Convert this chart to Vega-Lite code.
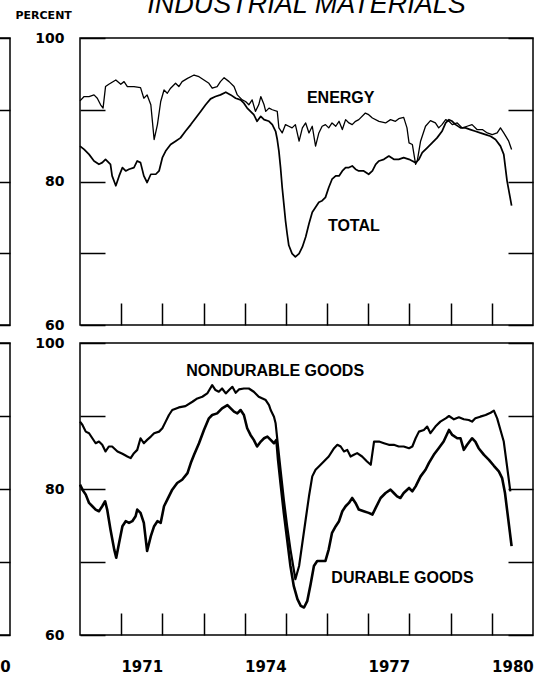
{
  "$schema": "https://vega.github.io/schema/vega-lite/v6.json",
  "background": "white",
  "padding": {"left": -444, "top": -10, "right": 10, "bottom": 0},
  "datasets": {
    "top": [
      {"s":"ENERGY","t":1970.0,"v":91.24},{"s":"ENERGY","t":1970.10,"v":91.84},{"s":"ENERGY","t":1970.22,"v":91.84},{"s":"ENERGY","t":1970.34,"v":92.07},{"s":"ENERGY","t":1970.42,"v":91.61},{"s":"ENERGY","t":1970.50,"v":90.69},{"s":"ENERGY","t":1970.56,"v":90.23},{"s":"ENERGY","t":1970.62,"v":93.23},{"s":"ENERGY","t":1970.70,"v":93.55},{"s":"ENERGY","t":1970.87,"v":94.15},{"s":"ENERGY","t":1970.99,"v":93.55},{"s":"ENERGY","t":1971.07,"v":93.92},{"s":"ENERGY","t":1971.15,"v":93.23},{"s":"ENERGY","t":1971.31,"v":93.23},{"s":"ENERGY","t":1971.47,"v":93.09},{"s":"ENERGY","t":1971.55,"v":91.61},{"s":"ENERGY","t":1971.63,"v":92.07},{"s":"ENERGY","t":1971.72,"v":90.69},{"s":"ENERGY","t":1971.80,"v":85.85},{"s":"ENERGY","t":1971.88,"v":87.93},{"s":"ENERGY","t":1971.96,"v":91.15},{"s":"ENERGY","t":1972.04,"v":92.76},{"s":"ENERGY","t":1972.12,"v":92.30},{"s":"ENERGY","t":1972.20,"v":93.00},{"s":"ENERGY","t":1972.32,"v":93.69},{"s":"ENERGY","t":1972.40,"v":93.23},{"s":"ENERGY","t":1972.48,"v":93.92},{"s":"ENERGY","t":1972.61,"v":94.38},{"s":"ENERGY","t":1972.77,"v":94.84},{"s":"ENERGY","t":1972.89,"v":94.61},{"s":"ENERGY","t":1973.01,"v":94.15},{"s":"ENERGY","t":1973.13,"v":93.69},{"s":"ENERGY","t":1973.21,"v":93.00},{"s":"ENERGY","t":1973.33,"v":93.23},{"s":"ENERGY","t":1973.41,"v":93.92},{"s":"ENERGY","t":1973.50,"v":94.47},{"s":"ENERGY","t":1973.62,"v":93.92},{"s":"ENERGY","t":1973.74,"v":93.23},{"s":"ENERGY","t":1973.82,"v":92.07},{"s":"ENERGY","t":1973.94,"v":91.38},{"s":"ENERGY","t":1974.02,"v":91.15},{"s":"ENERGY","t":1974.10,"v":90.69},{"s":"ENERGY","t":1974.18,"v":91.38},{"s":"ENERGY","t":1974.26,"v":89.77},{"s":"ENERGY","t":1974.34,"v":90.69},{"s":"ENERGY","t":1974.39,"v":91.84},{"s":"ENERGY","t":1974.47,"v":90.69},{"s":"ENERGY","t":1974.51,"v":89.77},{"s":"ENERGY","t":1974.59,"v":90.23},{"s":"ENERGY","t":1974.67,"v":90.00},{"s":"ENERGY","t":1974.79,"v":89.77},{"s":"ENERGY","t":1974.83,"v":87.47},{"s":"ENERGY","t":1974.91,"v":86.77},{"s":"ENERGY","t":1974.99,"v":87.93},{"s":"ENERGY","t":1975.07,"v":87.70},{"s":"ENERGY","t":1975.15,"v":87.47},{"s":"ENERGY","t":1975.23,"v":87.93},{"s":"ENERGY","t":1975.32,"v":85.62},{"s":"ENERGY","t":1975.40,"v":87.47},{"s":"ENERGY","t":1975.48,"v":88.16},{"s":"ENERGY","t":1975.56,"v":86.77},{"s":"ENERGY","t":1975.64,"v":87.70},{"s":"ENERGY","t":1975.72,"v":84.93},{"s":"ENERGY","t":1975.80,"v":86.77},{"s":"ENERGY","t":1975.88,"v":87.70},{"s":"ENERGY","t":1975.96,"v":87.93},{"s":"ENERGY","t":1976.04,"v":87.47},{"s":"ENERGY","t":1976.12,"v":88.16},{"s":"ENERGY","t":1976.21,"v":87.70},{"s":"ENERGY","t":1976.29,"v":88.39},{"s":"ENERGY","t":1976.37,"v":87.24},{"s":"ENERGY","t":1976.45,"v":88.62},{"s":"ENERGY","t":1976.53,"v":88.16},{"s":"ENERGY","t":1976.61,"v":87.93},{"s":"ENERGY","t":1976.69,"v":88.39},{"s":"ENERGY","t":1976.77,"v":88.62},{"s":"ENERGY","t":1976.93,"v":89.54},{"s":"ENERGY","t":1977.01,"v":89.31},{"s":"ENERGY","t":1977.10,"v":88.85},{"s":"ENERGY","t":1977.26,"v":88.39},{"s":"ENERGY","t":1977.42,"v":88.16},{"s":"ENERGY","t":1977.54,"v":88.62},{"s":"ENERGY","t":1977.66,"v":88.39},{"s":"ENERGY","t":1977.74,"v":88.76},{"s":"ENERGY","t":1977.86,"v":88.94},{"s":"ENERGY","t":1977.94,"v":87.47},{"s":"ENERGY","t":1977.99,"v":85.39},{"s":"ENERGY","t":1978.07,"v":85.16},{"s":"ENERGY","t":1978.15,"v":82.40},{"s":"ENERGY","t":1978.19,"v":82.86},{"s":"ENERGY","t":1978.27,"v":85.62},{"s":"ENERGY","t":1978.39,"v":87.70},{"s":"ENERGY","t":1978.51,"v":88.48},{"s":"ENERGY","t":1978.63,"v":88.16},{"s":"ENERGY","t":1978.71,"v":87.47},{"s":"ENERGY","t":1978.79,"v":87.93},{"s":"ENERGY","t":1978.88,"v":88.62},{"s":"ENERGY","t":1978.96,"v":88.39},{"s":"ENERGY","t":1979.04,"v":87.93},{"s":"ENERGY","t":1979.16,"v":88.16},{"s":"ENERGY","t":1979.28,"v":87.47},{"s":"ENERGY","t":1979.40,"v":87.70},{"s":"ENERGY","t":1979.52,"v":87.93},{"s":"ENERGY","t":1979.64,"v":87.24},{"s":"ENERGY","t":1979.77,"v":87.24},{"s":"ENERGY","t":1979.89,"v":86.77},{"s":"ENERGY","t":1980.01,"v":86.54},{"s":"ENERGY","t":1980.13,"v":86.77},{"s":"ENERGY","t":1980.21,"v":87.47},{"s":"ENERGY","t":1980.29,"v":86.77},{"s":"ENERGY","t":1980.41,"v":85.62},{"s":"ENERGY","t":1980.48,"v":84.47},
      {"s":"TOTAL","t":1970.0,"v":84.93},{"s":"TOTAL","t":1970.10,"v":84.47},{"s":"TOTAL","t":1970.22,"v":83.78},{"s":"TOTAL","t":1970.34,"v":82.86},{"s":"TOTAL","t":1970.46,"v":82.40},{"s":"TOTAL","t":1970.54,"v":82.63},{"s":"TOTAL","t":1970.62,"v":83.09},{"s":"TOTAL","t":1970.74,"v":82.40},{"s":"TOTAL","t":1970.78,"v":80.78},{"s":"TOTAL","t":1970.87,"v":79.40},{"s":"TOTAL","t":1970.95,"v":80.78},{"s":"TOTAL","t":1971.03,"v":81.94},{"s":"TOTAL","t":1971.11,"v":81.47},{"s":"TOTAL","t":1971.19,"v":81.71},{"s":"TOTAL","t":1971.31,"v":81.94},{"s":"TOTAL","t":1971.39,"v":82.86},{"s":"TOTAL","t":1971.47,"v":82.63},{"s":"TOTAL","t":1971.55,"v":80.78},{"s":"TOTAL","t":1971.63,"v":79.86},{"s":"TOTAL","t":1971.72,"v":81.01},{"s":"TOTAL","t":1971.84,"v":81.01},{"s":"TOTAL","t":1971.92,"v":81.47},{"s":"TOTAL","t":1972.00,"v":83.32},{"s":"TOTAL","t":1972.08,"v":84.24},{"s":"TOTAL","t":1972.20,"v":85.16},{"s":"TOTAL","t":1972.32,"v":85.62},{"s":"TOTAL","t":1972.44,"v":86.08},{"s":"TOTAL","t":1972.56,"v":87.00},{"s":"TOTAL","t":1972.69,"v":87.93},{"s":"TOTAL","t":1972.81,"v":88.85},{"s":"TOTAL","t":1972.93,"v":89.77},{"s":"TOTAL","t":1973.05,"v":90.69},{"s":"TOTAL","t":1973.17,"v":91.52},{"s":"TOTAL","t":1973.29,"v":91.84},{"s":"TOTAL","t":1973.41,"v":92.07},{"s":"TOTAL","t":1973.54,"v":92.44},{"s":"TOTAL","t":1973.66,"v":92.07},{"s":"TOTAL","t":1973.78,"v":91.61},{"s":"TOTAL","t":1973.90,"v":91.38},{"s":"TOTAL","t":1973.98,"v":90.92},{"s":"TOTAL","t":1974.06,"v":90.23},{"s":"TOTAL","t":1974.14,"v":89.77},{"s":"TOTAL","t":1974.22,"v":89.31},{"s":"TOTAL","t":1974.30,"v":88.39},{"s":"TOTAL","t":1974.39,"v":89.08},{"s":"TOTAL","t":1974.47,"v":88.62},{"s":"TOTAL","t":1974.59,"v":88.39},{"s":"TOTAL","t":1974.67,"v":87.93},{"s":"TOTAL","t":1974.75,"v":87.00},{"s":"TOTAL","t":1974.79,"v":85.85},{"s":"TOTAL","t":1974.83,"v":84.24},{"s":"TOTAL","t":1974.87,"v":81.94},{"s":"TOTAL","t":1974.91,"v":79.17},{"s":"TOTAL","t":1974.95,"v":76.87},{"s":"TOTAL","t":1974.99,"v":74.56},{"s":"TOTAL","t":1975.03,"v":72.72},{"s":"TOTAL","t":1975.07,"v":71.11},{"s":"TOTAL","t":1975.15,"v":69.95},{"s":"TOTAL","t":1975.23,"v":69.49},{"s":"TOTAL","t":1975.32,"v":69.95},{"s":"TOTAL","t":1975.40,"v":70.88},{"s":"TOTAL","t":1975.48,"v":72.26},{"s":"TOTAL","t":1975.56,"v":74.10},{"s":"TOTAL","t":1975.64,"v":75.71},{"s":"TOTAL","t":1975.72,"v":76.41},{"s":"TOTAL","t":1975.80,"v":77.10},{"s":"TOTAL","t":1975.88,"v":77.33},{"s":"TOTAL","t":1975.96,"v":77.79},{"s":"TOTAL","t":1976.04,"v":79.17},{"s":"TOTAL","t":1976.12,"v":80.32},{"s":"TOTAL","t":1976.21,"v":80.78},{"s":"TOTAL","t":1976.29,"v":80.78},{"s":"TOTAL","t":1976.37,"v":81.47},{"s":"TOTAL","t":1976.45,"v":81.94},{"s":"TOTAL","t":1976.53,"v":81.94},{"s":"TOTAL","t":1976.61,"v":82.17},{"s":"TOTAL","t":1976.69,"v":81.71},{"s":"TOTAL","t":1976.77,"v":81.47},{"s":"TOTAL","t":1976.89,"v":81.47},{"s":"TOTAL","t":1977.01,"v":81.01},{"s":"TOTAL","t":1977.10,"v":81.47},{"s":"TOTAL","t":1977.18,"v":82.40},{"s":"TOTAL","t":1977.26,"v":82.86},{"s":"TOTAL","t":1977.38,"v":83.09},{"s":"TOTAL","t":1977.50,"v":83.55},{"s":"TOTAL","t":1977.62,"v":83.09},{"s":"TOTAL","t":1977.74,"v":83.09},{"s":"TOTAL","t":1977.86,"v":83.32},{"s":"TOTAL","t":1977.99,"v":83.09},{"s":"TOTAL","t":1978.07,"v":82.86},{"s":"TOTAL","t":1978.15,"v":82.63},{"s":"TOTAL","t":1978.23,"v":83.09},{"s":"TOTAL","t":1978.31,"v":84.01},{"s":"TOTAL","t":1978.43,"v":84.70},{"s":"TOTAL","t":1978.55,"v":85.39},{"s":"TOTAL","t":1978.67,"v":86.08},{"s":"TOTAL","t":1978.79,"v":87.00},{"s":"TOTAL","t":1978.88,"v":88.16},{"s":"TOTAL","t":1978.96,"v":88.62},{"s":"TOTAL","t":1979.04,"v":88.39},{"s":"TOTAL","t":1979.12,"v":87.93},{"s":"TOTAL","t":1979.24,"v":87.47},{"s":"TOTAL","t":1979.36,"v":87.47},{"s":"TOTAL","t":1979.48,"v":87.24},{"s":"TOTAL","t":1979.60,"v":87.00},{"s":"TOTAL","t":1979.72,"v":86.77},{"s":"TOTAL","t":1979.85,"v":86.54},{"s":"TOTAL","t":1979.97,"v":86.31},{"s":"TOTAL","t":1980.09,"v":85.85},{"s":"TOTAL","t":1980.21,"v":84.93},{"s":"TOTAL","t":1980.29,"v":83.78},{"s":"TOTAL","t":1980.37,"v":80.09},{"s":"TOTAL","t":1980.48,"v":76.64}
    ],
    "bottom": [
      {"s":"NONDURABLE","t":1970.0,"v":89.23},{"s":"NONDURABLE","t":1970.06,"v":88.77},{"s":"NONDURABLE","t":1970.14,"v":87.86},{"s":"NONDURABLE","t":1970.22,"v":87.64},{"s":"NONDURABLE","t":1970.30,"v":86.95},{"s":"NONDURABLE","t":1970.38,"v":86.27},{"s":"NONDURABLE","t":1970.46,"v":86.50},{"s":"NONDURABLE","t":1970.54,"v":86.05},{"s":"NONDURABLE","t":1970.62,"v":85.14},{"s":"NONDURABLE","t":1970.70,"v":85.82},{"s":"NONDURABLE","t":1970.78,"v":85.82},{"s":"NONDURABLE","t":1970.91,"v":85.14},{"s":"NONDURABLE","t":1971.03,"v":84.82},{"s":"NONDURABLE","t":1971.15,"v":84.45},{"s":"NONDURABLE","t":1971.23,"v":84.23},{"s":"NONDURABLE","t":1971.31,"v":84.91},{"s":"NONDURABLE","t":1971.39,"v":85.36},{"s":"NONDURABLE","t":1971.47,"v":86.95},{"s":"NONDURABLE","t":1971.55,"v":86.27},{"s":"NONDURABLE","t":1971.63,"v":86.73},{"s":"NONDURABLE","t":1971.72,"v":87.18},{"s":"NONDURABLE","t":1971.80,"v":87.64},{"s":"NONDURABLE","t":1971.92,"v":87.86},{"s":"NONDURABLE","t":1972.00,"v":88.32},{"s":"NONDURABLE","t":1972.08,"v":89.23},{"s":"NONDURABLE","t":1972.16,"v":90.14},{"s":"NONDURABLE","t":1972.24,"v":90.82},{"s":"NONDURABLE","t":1972.40,"v":91.18},{"s":"NONDURABLE","t":1972.56,"v":91.36},{"s":"NONDURABLE","t":1972.73,"v":91.95},{"s":"NONDURABLE","t":1972.85,"v":92.41},{"s":"NONDURABLE","t":1972.97,"v":92.64},{"s":"NONDURABLE","t":1973.09,"v":93.09},{"s":"NONDURABLE","t":1973.21,"v":94.23},{"s":"NONDURABLE","t":1973.29,"v":93.55},{"s":"NONDURABLE","t":1973.37,"v":93.32},{"s":"NONDURABLE","t":1973.45,"v":93.77},{"s":"NONDURABLE","t":1973.54,"v":93.09},{"s":"NONDURABLE","t":1973.62,"v":93.55},{"s":"NONDURABLE","t":1973.70,"v":94.00},{"s":"NONDURABLE","t":1973.78,"v":93.18},{"s":"NONDURABLE","t":1973.86,"v":93.64},{"s":"NONDURABLE","t":1973.98,"v":93.77},{"s":"NONDURABLE","t":1974.10,"v":93.77},{"s":"NONDURABLE","t":1974.22,"v":93.32},{"s":"NONDURABLE","t":1974.34,"v":92.64},{"s":"NONDURABLE","t":1974.51,"v":92.18},{"s":"NONDURABLE","t":1974.59,"v":91.50},{"s":"NONDURABLE","t":1974.63,"v":90.82},{"s":"NONDURABLE","t":1974.71,"v":89.91},{"s":"NONDURABLE","t":1974.75,"v":89.00},{"s":"NONDURABLE","t":1974.81,"v":85.82},{"s":"NONDURABLE","t":1974.87,"v":82.64},{"s":"NONDURABLE","t":1974.95,"v":78.55},{"s":"NONDURABLE","t":1975.03,"v":74.91},{"s":"NONDURABLE","t":1975.11,"v":71.73},{"s":"NONDURABLE","t":1975.19,"v":69.00},{"s":"NONDURABLE","t":1975.23,"v":67.64},{"s":"NONDURABLE","t":1975.32,"v":69.45},{"s":"NONDURABLE","t":1975.40,"v":72.64},{"s":"NONDURABLE","t":1975.48,"v":75.82},{"s":"NONDURABLE","t":1975.56,"v":79.00},{"s":"NONDURABLE","t":1975.64,"v":81.73},{"s":"NONDURABLE","t":1975.72,"v":82.64},{"s":"NONDURABLE","t":1975.80,"v":83.09},{"s":"NONDURABLE","t":1975.92,"v":83.77},{"s":"NONDURABLE","t":1976.04,"v":84.45},{"s":"NONDURABLE","t":1976.17,"v":85.59},{"s":"NONDURABLE","t":1976.25,"v":86.05},{"s":"NONDURABLE","t":1976.33,"v":85.82},{"s":"NONDURABLE","t":1976.41,"v":85.14},{"s":"NONDURABLE","t":1976.49,"v":85.36},{"s":"NONDURABLE","t":1976.57,"v":84.45},{"s":"NONDURABLE","t":1976.65,"v":84.68},{"s":"NONDURABLE","t":1976.73,"v":84.91},{"s":"NONDURABLE","t":1976.85,"v":84.45},{"s":"NONDURABLE","t":1976.97,"v":83.77},{"s":"NONDURABLE","t":1977.06,"v":83.32},{"s":"NONDURABLE","t":1977.14,"v":86.50},{"s":"NONDURABLE","t":1977.26,"v":86.50},{"s":"NONDURABLE","t":1977.38,"v":86.27},{"s":"NONDURABLE","t":1977.50,"v":86.05},{"s":"NONDURABLE","t":1977.62,"v":86.05},{"s":"NONDURABLE","t":1977.74,"v":85.82},{"s":"NONDURABLE","t":1977.86,"v":85.82},{"s":"NONDURABLE","t":1977.99,"v":85.59},{"s":"NONDURABLE","t":1978.07,"v":85.82},{"s":"NONDURABLE","t":1978.15,"v":86.95},{"s":"NONDURABLE","t":1978.23,"v":87.86},{"s":"NONDURABLE","t":1978.35,"v":88.09},{"s":"NONDURABLE","t":1978.43,"v":88.55},{"s":"NONDURABLE","t":1978.51,"v":87.64},{"s":"NONDURABLE","t":1978.63,"v":88.55},{"s":"NONDURABLE","t":1978.75,"v":89.23},{"s":"NONDURABLE","t":1978.88,"v":89.68},{"s":"NONDURABLE","t":1978.96,"v":90.00},{"s":"NONDURABLE","t":1979.08,"v":89.55},{"s":"NONDURABLE","t":1979.20,"v":89.82},{"s":"NONDURABLE","t":1979.32,"v":89.55},{"s":"NONDURABLE","t":1979.44,"v":89.45},{"s":"NONDURABLE","t":1979.52,"v":89.23},{"s":"NONDURABLE","t":1979.60,"v":89.68},{"s":"NONDURABLE","t":1979.72,"v":89.91},{"s":"NONDURABLE","t":1979.85,"v":90.14},{"s":"NONDURABLE","t":1979.97,"v":90.45},{"s":"NONDURABLE","t":1980.05,"v":90.73},{"s":"NONDURABLE","t":1980.13,"v":89.68},{"s":"NONDURABLE","t":1980.21,"v":88.09},{"s":"NONDURABLE","t":1980.29,"v":86.50},{"s":"NONDURABLE","t":1980.37,"v":83.09},{"s":"NONDURABLE","t":1980.45,"v":79.68},
      {"s":"DURABLE","t":1970.0,"v":80.59},{"s":"DURABLE","t":1970.06,"v":79.91},{"s":"DURABLE","t":1970.14,"v":79.23},{"s":"DURABLE","t":1970.22,"v":78.09},{"s":"DURABLE","t":1970.30,"v":77.64},{"s":"DURABLE","t":1970.38,"v":77.18},{"s":"DURABLE","t":1970.46,"v":76.95},{"s":"DURABLE","t":1970.54,"v":77.64},{"s":"DURABLE","t":1970.61,"v":78.32},{"s":"DURABLE","t":1970.66,"v":77.18},{"s":"DURABLE","t":1970.74,"v":74.45},{"s":"DURABLE","t":1970.83,"v":71.73},{"s":"DURABLE","t":1970.88,"v":70.59},{"s":"DURABLE","t":1970.95,"v":72.64},{"s":"DURABLE","t":1971.03,"v":74.91},{"s":"DURABLE","t":1971.11,"v":75.59},{"s":"DURABLE","t":1971.19,"v":75.36},{"s":"DURABLE","t":1971.27,"v":75.59},{"s":"DURABLE","t":1971.35,"v":76.27},{"s":"DURABLE","t":1971.39,"v":77.18},{"s":"DURABLE","t":1971.47,"v":76.73},{"s":"DURABLE","t":1971.55,"v":75.36},{"s":"DURABLE","t":1971.63,"v":71.50},{"s":"DURABLE","t":1971.72,"v":73.55},{"s":"DURABLE","t":1971.80,"v":74.91},{"s":"DURABLE","t":1971.88,"v":75.59},{"s":"DURABLE","t":1971.96,"v":75.36},{"s":"DURABLE","t":1972.04,"v":77.64},{"s":"DURABLE","t":1972.12,"v":78.55},{"s":"DURABLE","t":1972.24,"v":79.91},{"s":"DURABLE","t":1972.36,"v":80.82},{"s":"DURABLE","t":1972.48,"v":81.27},{"s":"DURABLE","t":1972.61,"v":82.18},{"s":"DURABLE","t":1972.69,"v":83.55},{"s":"DURABLE","t":1972.77,"v":84.68},{"s":"DURABLE","t":1972.89,"v":86.27},{"s":"DURABLE","t":1973.01,"v":88.09},{"s":"DURABLE","t":1973.13,"v":89.68},{"s":"DURABLE","t":1973.21,"v":90.14},{"s":"DURABLE","t":1973.33,"v":90.36},{"s":"DURABLE","t":1973.45,"v":91.05},{"s":"DURABLE","t":1973.58,"v":91.50},{"s":"DURABLE","t":1973.66,"v":91.05},{"s":"DURABLE","t":1973.74,"v":90.59},{"s":"DURABLE","t":1973.82,"v":90.36},{"s":"DURABLE","t":1973.90,"v":90.82},{"s":"DURABLE","t":1973.98,"v":90.14},{"s":"DURABLE","t":1974.06,"v":88.32},{"s":"DURABLE","t":1974.14,"v":87.41},{"s":"DURABLE","t":1974.22,"v":86.73},{"s":"DURABLE","t":1974.30,"v":85.82},{"s":"DURABLE","t":1974.39,"v":86.50},{"s":"DURABLE","t":1974.47,"v":86.95},{"s":"DURABLE","t":1974.55,"v":87.18},{"s":"DURABLE","t":1974.63,"v":86.73},{"s":"DURABLE","t":1974.71,"v":86.27},{"s":"DURABLE","t":1974.77,"v":86.73},{"s":"DURABLE","t":1974.81,"v":84.00},{"s":"DURABLE","t":1974.87,"v":80.82},{"s":"DURABLE","t":1974.95,"v":76.73},{"s":"DURABLE","t":1975.03,"v":73.09},{"s":"DURABLE","t":1975.11,"v":69.45},{"s":"DURABLE","t":1975.19,"v":66.73},{"s":"DURABLE","t":1975.28,"v":64.91},{"s":"DURABLE","t":1975.36,"v":64.00},{"s":"DURABLE","t":1975.44,"v":63.77},{"s":"DURABLE","t":1975.52,"v":64.68},{"s":"DURABLE","t":1975.60,"v":66.95},{"s":"DURABLE","t":1975.68,"v":69.45},{"s":"DURABLE","t":1975.76,"v":70.14},{"s":"DURABLE","t":1975.84,"v":70.14},{"s":"DURABLE","t":1975.96,"v":70.14},{"s":"DURABLE","t":1976.04,"v":71.73},{"s":"DURABLE","t":1976.12,"v":74.00},{"s":"DURABLE","t":1976.21,"v":74.91},{"s":"DURABLE","t":1976.29,"v":75.59},{"s":"DURABLE","t":1976.37,"v":76.95},{"s":"DURABLE","t":1976.45,"v":77.64},{"s":"DURABLE","t":1976.53,"v":78.09},{"s":"DURABLE","t":1976.61,"v":78.77},{"s":"DURABLE","t":1976.69,"v":78.09},{"s":"DURABLE","t":1976.77,"v":77.18},{"s":"DURABLE","t":1976.89,"v":76.95},{"s":"DURABLE","t":1977.01,"v":76.73},{"s":"DURABLE","t":1977.10,"v":76.50},{"s":"DURABLE","t":1977.18,"v":77.41},{"s":"DURABLE","t":1977.30,"v":78.77},{"s":"DURABLE","t":1977.42,"v":79.45},{"s":"DURABLE","t":1977.54,"v":79.91},{"s":"DURABLE","t":1977.62,"v":79.45},{"s":"DURABLE","t":1977.70,"v":79.00},{"s":"DURABLE","t":1977.78,"v":78.77},{"s":"DURABLE","t":1977.86,"v":79.45},{"s":"DURABLE","t":1977.99,"v":80.14},{"s":"DURABLE","t":1978.07,"v":79.68},{"s":"DURABLE","t":1978.15,"v":80.36},{"s":"DURABLE","t":1978.27,"v":81.73},{"s":"DURABLE","t":1978.39,"v":82.64},{"s":"DURABLE","t":1978.47,"v":83.55},{"s":"DURABLE","t":1978.59,"v":84.68},{"s":"DURABLE","t":1978.71,"v":85.59},{"s":"DURABLE","t":1978.83,"v":86.50},{"s":"DURABLE","t":1978.96,"v":88.09},{"s":"DURABLE","t":1979.04,"v":87.41},{"s":"DURABLE","t":1979.16,"v":86.95},{"s":"DURABLE","t":1979.24,"v":86.95},{"s":"DURABLE","t":1979.32,"v":85.36},{"s":"DURABLE","t":1979.40,"v":86.05},{"s":"DURABLE","t":1979.52,"v":86.95},{"s":"DURABLE","t":1979.60,"v":86.50},{"s":"DURABLE","t":1979.68,"v":85.59},{"s":"DURABLE","t":1979.81,"v":84.68},{"s":"DURABLE","t":1979.93,"v":84.00},{"s":"DURABLE","t":1980.05,"v":83.18},{"s":"DURABLE","t":1980.17,"v":82.41},{"s":"DURABLE","t":1980.25,"v":81.50},{"s":"DURABLE","t":1980.32,"v":79.45},{"s":"DURABLE","t":1980.37,"v":77.18},{"s":"DURABLE","t":1980.48,"v":72.18}
    ],
    "topLabels": [
      {"label": "ENERGY", "t": 1976.33, "v": 91.6},
      {"label": "TOTAL", "t": 1976.65, "v": 73.8}
    ],
    "bottomLabels": [
      {"label": "NONDURABLE GOODS", "t": 1974.74, "v": 96.2},
      {"label": "DURABLE GOODS", "t": 1977.83, "v": 67.75}
    ],
    "frame": [{"t": 1975, "v": 80}]
  },
  "columns": 2,
  "spacing": {"row": 2, "column": 2},
  "concat": [
    {
      "width": 453,
      "height": 287,
      "data": {"name": "frame"},
      "mark": {"type": "point", "opacity": 0},
      "encoding": {
        "x": {"field": "t", "type": "quantitative", "scale": {"domain": [1970, 1981], "nice": false, "zero": false},
              "axis": {"values": [1971,1972,1973,1974,1975,1976,1977,1978,1979,1980], "labels": false, "tickSize": -22, "title": null}},
        "y": {"field": "v", "type": "quantitative", "scale": {"domain": [60, 100], "nice": false, "zero": false},
              "axis": {"orient": "right", "values": [60,70,80,90,100], "tickSize": -25, "labels": false, "title": null}}
      }
    },
    {
      "width": 453,
      "height": 287,
      "title": {"text": "INDUSTRIAL MATERIALS", "font": "Liberation Sans", "fontStyle": "italic", "fontWeight": "normal", "fontSize": 27, "anchor": "middle", "frame": "group", "color": "black", "offset": -10},
      "layer": [
        {
          "data": {"name": "top"},
          "mark": {"type": "line", "color": "black", "strokeJoin": "round"},
          "encoding": {
            "x": {"field": "t", "type": "quantitative", "scale": {"domain": [1970, 1981], "nice": false, "zero": false},
                  "axis": {"values": [1971,1972,1973,1974,1975,1976,1977,1978,1979,1980], "labels": false, "tickSize": -22, "title": null}},
            "y": {"field": "v", "type": "quantitative", "scale": {"domain": [60, 100], "nice": false, "zero": false},
                  "axis": {"orient": "left", "values": [60,70,80,90,100], "tickSize": -25, "labelPadding": 41, "labelFontSize": 14,
                           "labelExpr": "datum.value % 20 == 0 ? datum.label : ''", "labelOverlap": false,
                           "title": "PERCENT", "titleAngle": 0, "titleAlign": "left", "titleBaseline": "middle", "titleX": -65, "titleY": -23,
                           "titleFont": "DejaVu Sans", "titleFontWeight": "bold", "titleFontSize": 11, "titleColor": "black"}},
            "strokeWidth": {"field": "s", "type": "nominal", "scale": {"domain": ["ENERGY", "TOTAL"], "range": [1.3, 2.6]}, "legend": null}
          }
        },
        {
          "data": {"name": "topLabels"},
          "mark": {"type": "text", "font": "Liberation Sans", "fontWeight": "bold", "fontSize": 16, "color": "black", "align": "center", "baseline": "middle"},
          "encoding": {
            "x": {"field": "t", "type": "quantitative"},
            "y": {"field": "v", "type": "quantitative", "axis": {"orient": "right", "values": [60,70,80,90,100], "tickSize": -25, "labels": false, "title": null}},
            "text": {"field": "label"}
          }
        }
      ],
      "resolve": {"axis": {"y": "independent"}}
    },
    {
      "width": 453,
      "height": 292,
      "data": {"name": "frame"},
      "mark": {"type": "point", "opacity": 0},
      "encoding": {
        "x": {"field": "t", "type": "quantitative", "scale": {"domain": [1970, 1981], "nice": false, "zero": false},
              "axis": {"values": [1971,1972,1973,1974,1975,1976,1977,1978,1979,1980], "tickSize": -22, "title": null,
                       "labelExpr": "indexof([1971,1974,1977,1980], datum.value) >= 0 ? format(datum.value, 'd') : ''",
                       "labelOffset": 20.6, "labelPadding": 46, "labelFontSize": 15, "labelFlush": false, "labelOverlap": false, "labelBound": false}},
        "y": {"field": "v", "type": "quantitative", "scale": {"domain": [60, 100], "nice": false, "zero": false},
              "axis": {"orient": "right", "values": [60,70,80,90,100], "tickSize": -25, "labels": false, "title": null}}
      }
    },
    {
      "width": 453,
      "height": 292,
      "layer": [
        {
          "data": {"name": "bottom"},
          "mark": {"type": "line", "color": "black", "strokeJoin": "round"},
          "encoding": {
            "x": {"field": "t", "type": "quantitative", "scale": {"domain": [1970, 1981], "nice": false, "zero": false},
                  "axis": {"values": [1971,1972,1973,1974,1975,1976,1977,1978,1979,1980], "tickSize": -22, "title": null,
                           "labelExpr": "indexof([1971,1974,1977,1980], datum.value) >= 0 ? format(datum.value, 'd') : ''",
                           "labelOffset": 20.6, "labelPadding": 46, "labelFontSize": 15, "labelFlush": false, "labelOverlap": false, "labelBound": false}},
            "y": {"field": "v", "type": "quantitative", "scale": {"domain": [60, 100], "nice": false, "zero": false},
                  "axis": {"orient": "left", "values": [60,70,80,90,100], "tickSize": -25, "labelPadding": 41, "labelFontSize": 14,
                           "labelExpr": "datum.value % 20 == 0 ? datum.label : ''", "labelOverlap": false, "title": null}},
            "strokeWidth": {"field": "s", "type": "nominal", "scale": {"domain": ["NONDURABLE", "DURABLE"], "range": [1.3, 2.6]}, "legend": null}
          }
        },
        {
          "data": {"name": "bottomLabels"},
          "mark": {"type": "text", "font": "Liberation Sans", "fontWeight": "bold", "fontSize": 16, "color": "black", "align": "center", "baseline": "middle"},
          "encoding": {
            "x": {"field": "t", "type": "quantitative"},
            "y": {"field": "v", "type": "quantitative", "axis": {"orient": "right", "values": [60,70,80,90,100], "tickSize": -25, "labels": false, "title": null}},
            "text": {"field": "label"}
          }
        }
      ],
      "resolve": {"axis": {"y": "independent"}}
    }
  ],
  "config": {
    "view": {"stroke": "black", "strokeWidth": 1.5},
    "axis": {"domain": false, "grid": false, "tickColor": "black", "tickWidth": 1.5, "labelColor": "black", "labelFont": "DejaVu Sans", "labelFontWeight": "bold"}
  }
}
